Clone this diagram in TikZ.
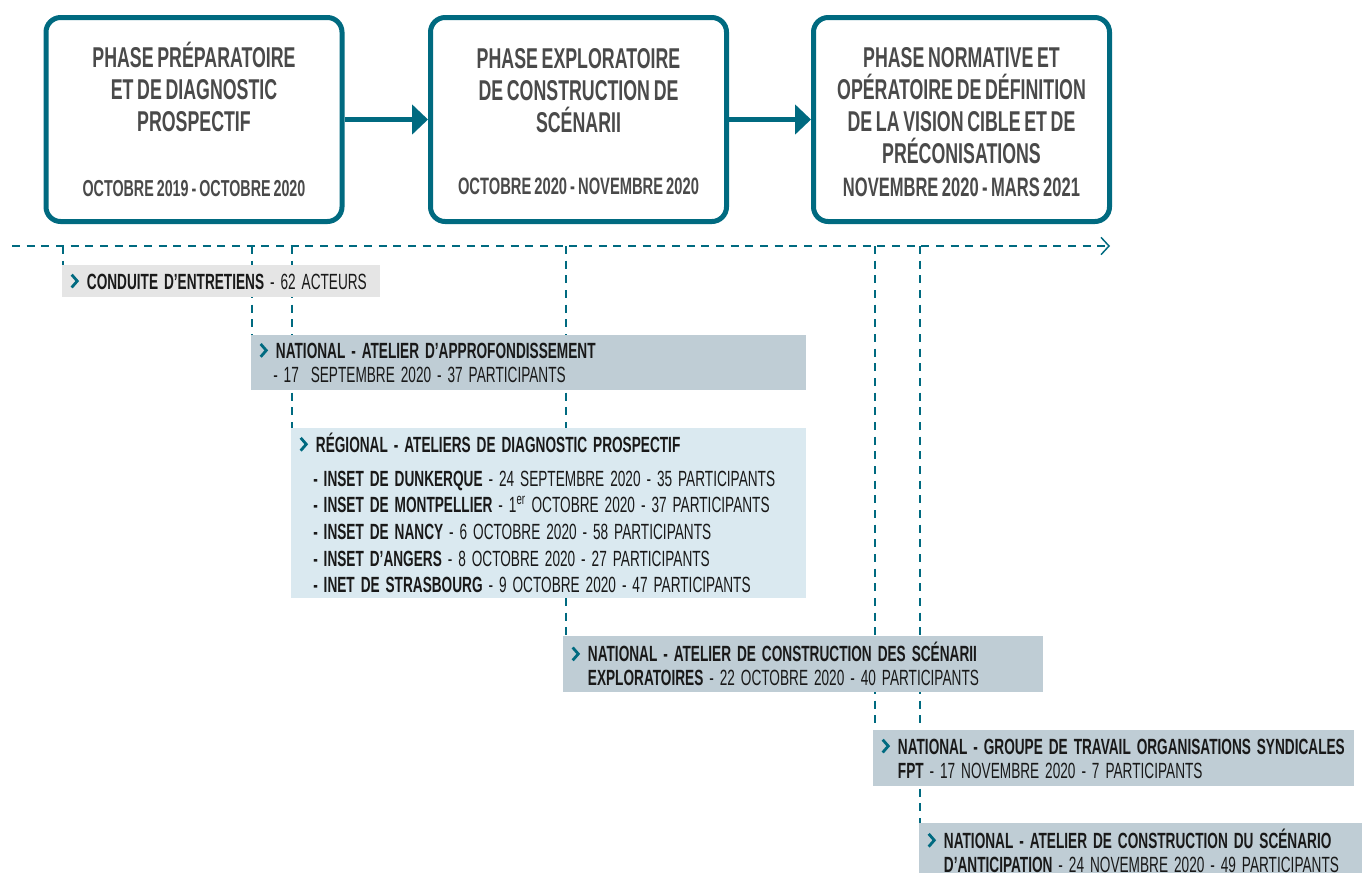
\documentclass[tikz,border=0pt]{standalone}
\usepackage{fontspec}
\setmainfont[FakeStretch=0.62, WordSpace=0.75]{Liberation Sans}
\usepackage{xcolor}
\usetikzlibrary{arrows.meta,positioning,backgrounds}
\definecolor{petrol}{HTML}{006A80}
\definecolor{titlegray}{HTML}{4A4A4A}
\definecolor{greyfill}{HTML}{E5E5E5}
\definecolor{natfill}{HTML}{BFCDD5}
\definecolor{regfill}{HTML}{DAE9F0}
\hyphenpenalty=10000
\exhyphenpenalty=10000
\newcommand{\chev}{\hspace*{6pt}\makebox[12.5pt][l]{\tikz[baseline=0pt]\draw[petrol, line width=2.1pt] (0pt,1.2pt) -- (4.2pt,6pt) -- (0pt,10.8pt);}}
\newcommand{\ind}{\hspace*{18.5pt}}
\newcommand{\dind}{\hspace*{16.5pt}}

\begin{document}
\begin{tikzpicture}[x=0.75pt, y=-0.75pt,
  phase/.style={draw=petrol, line width=3.75pt, rounded corners=11pt, fill=white, minimum width=222pt, minimum height=153pt},
  ptitle/.style={anchor=base, align=center, font=\fontsize{21.5}{24}\selectfont\bfseries, text=titlegray, inner sep=0pt},
  pdate/.style={anchor=base, align=center, font=\fontsize{17.3}{20}\selectfont\bfseries, text=titlegray, inner sep=0pt},
  flow/.style={petrol, line width=3.75pt, -{Triangle[length=12pt,width=22pt]}},
  event/.style={anchor=north west, align=left, font=\fontsize{16.5}{18}\selectfont, inner sep=0pt, text=black!90,
    execute at begin node={\spaceskip=0.27em\relax}},
  tl/.style={petrol, line width=1.1pt, dash pattern=on 6pt off 5pt}]
  \useasboundingbox (0,0) rectangle (1362,872);

  % phases (title nodes sit on their last line)
  \node[phase] (p1) at (194,119.5) {};
  \node[phase] (p2) at (578.5,119.5) {};
  \node[phase] (p3) at (961.5,119.5) {};
  \node[ptitle] (t1) at (194,131.5) {PHASE PRÉPARATOIRE\\ET DE DIAGNOSTIC\\PROSPECTIF};
  \node[ptitle] (t2) at (578.5,132.5) {PHASE EXPLORATOIRE\\DE CONSTRUCTION DE\\SCÉNARII};
  \node[ptitle] (t3) at (961.5,163.5) {PHASE NORMATIVE ET\\OPÉRATOIRE DE DÉFINITION\\DE LA VISION CIBLE ET DE\\PRÉCONISATIONS};
  \node[pdate] (d1) at (194,196) {OCTOBRE 2019 - OCTOBRE 2020};
  \node[pdate, font=\fontsize{17.8}{20}\selectfont\bfseries] (d2) at (578.5,194) {OCTOBRE 2020 - NOVEMBRE 2020};
  \node[pdate, font=\fontsize{20}{22}\selectfont\bfseries] (d3) at (961.5,196.5) {NOVEMBRE 2020 - MARS 2021};
  \draw[flow] (p1) -- (p2);
  \draw[flow] (p2) -- (p3);

  % events
  \node[event, fill=greyfill, text width=238.5pt, minimum height=24pt] (conduite) at (62,265)
    {\chev\textbf{CONDUITE D’ENTRETIENS} - 62 ACTEURS};
  \node[event, fill=natfill, text width=416.25pt, minimum height=41pt] (appro) at (251,335)
    {\chev\textbf{NATIONAL - ATELIER D’APPROFONDISSEMENT}\\\dind- 17~~SEPTEMBRE 2020 - 37 PARTICIPANTS};
  \node[event, fill=regfill, text width=386.25pt, minimum height=127pt] (regional) at (291,428)
    {\chev\textbf{RÉGIONAL - ATELIERS DE DIAGNOSTIC PROSPECTIF}\\[7.5pt]
     \dind\textbf{- INSET DE DUNKERQUE} - 24 SEPTEMBRE 2020 - 35 PARTICIPANTS\\[2pt]
     \dind\textbf{- INSET DE MONTPELLIER} - 1\textsuperscript{er} OCTOBRE 2020 - 37 PARTICIPANTS\\[2pt]
     \dind\textbf{- INSET DE NANCY} - 6 OCTOBRE 2020 - 58 PARTICIPANTS\\[2pt]
     \dind\textbf{- INSET D’ANGERS} - 8 OCTOBRE 2020 - 27 PARTICIPANTS\\[2pt]
     \dind\textbf{- INET DE STRASBOURG} - 9 OCTOBRE 2020 - 47 PARTICIPANTS};
  \node[event, fill=natfill, text width=360pt, minimum height=42pt] (scenarii) at (563,636)
    {\chev\textbf{NATIONAL - ATELIER DE CONSTRUCTION DES SCÉNARII}\\\ind\textbf{EXPLORATOIRES} - 22 OCTOBRE 2020 - 40 PARTICIPANTS};
  \node[event, fill=natfill, text width=360.75pt, minimum height=42pt] (fpt) at (873,730)
    {\chev\textbf{NATIONAL - GROUPE DE TRAVAIL ORGANISATIONS SYNDICALES}\\\ind\textbf{FPT} - 17 NOVEMBRE 2020 - 7 PARTICIPANTS};
  \node[event, fill=natfill, text width=337.5pt, minimum height=41pt] (anticip) at (919,823)
    {\chev\textbf{NATIONAL - ATELIER DE CONSTRUCTION DU SCÉNARIO}\\\ind\textbf{D’ANTICIPATION} - 24 NOVEMBRE 2020 - 49 PARTICIPANTS};

  % timeline
  \coordinate (start) at (12,246);
  \coordinate (end) at (1110,246);
  \coordinate (c1) at (63,246);
  \coordinate (c2) at (252,246);
  \coordinate (c3) at (292,246);
  \coordinate (c4) at (566,246);
  \coordinate (c5) at (875,246);
  \coordinate (c6) at (920,246);
  \begin{scope}[on background layer]
    \draw[tl, -{Straight Barb[length=6pt,width=13pt]}] (start) -- (end);
    \draw[tl] (c1) -- (c1 |- conduite.north);
    \draw[tl] (c2) -- (c2 |- appro.north);
    \draw[tl] (c3) -- (c3 |- regional.north);
    \draw[tl] (c4) -- (c4 |- scenarii.north);
    \draw[tl] (c5) -- (c5 |- fpt.north);
    \draw[tl] (c6) -- (c6 |- anticip.north);
  \end{scope}
\end{tikzpicture}
\end{document}
